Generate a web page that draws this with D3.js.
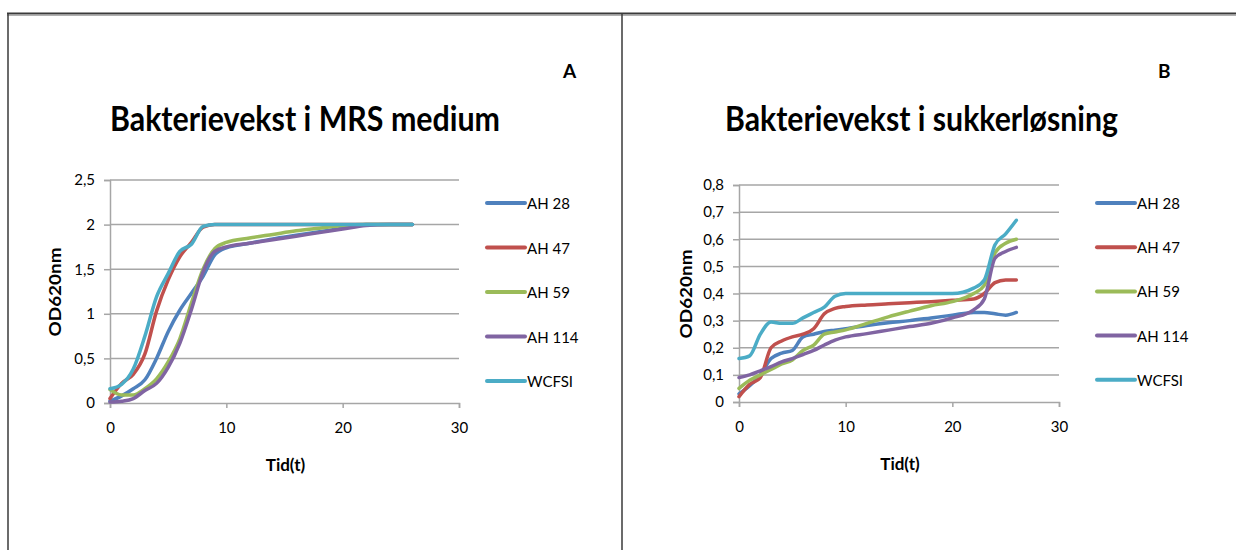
<!DOCTYPE html>
<html>
<head>
<meta charset="utf-8">
<script src="https://cdn.jsdelivr.net/npm/d3@7"></script>
<style>
  html, body { margin: 0; padding: 0; background: #fff; }
  svg { display: block; }
  text { font-family: Lato, "Open Sans", sans-serif; fill: #000; }
</style>
</head>
<body>
<svg id="chart" width="1236" height="550"></svg>
<script>
// ---------- Data ----------
const seriesNames = ["AH 28", "AH 47", "AH 59", "AH 114", "WCFSI"];
const seriesColors = ["#4F81BD", "#C0504D", "#9BBB59", "#8064A2", "#4BACC6"];

// Chart A: Bakterievekst i MRS medium
const timeA = [0, 1, 2, 3, 4, 5, 6, 7, 8, 9, 10, 12, 14, 16, 18, 20, 22, 24, 26];
const mrsAH28  = [0.02, 0.08, 0.16, 0.26, 0.50, 0.80, 1.04, 1.23, 1.42, 1.66, 1.74, 1.79, 1.84, 1.88, 1.92, 1.96, 2.0, 2.0, 2.0];
const mrsAH47  = [0.05, 0.22, 0.32, 0.55, 1.03, 1.38, 1.64, 1.80, 1.97, 2.0, 2.0, 2.0, 2.0, 2.0, 2.0, 2.0, 2.0, 2.0, 2.0];
const mrsAH59  = [0.15, 0.09, 0.09, 0.16, 0.27, 0.46, 0.72, 1.12, 1.50, 1.73, 1.80, 1.85, 1.89, 1.93, 1.96, 1.99, 2.0, 2.0, 2.0];
const mrsAH114 = [0.01, 0.02, 0.05, 0.14, 0.22, 0.40, 0.67, 1.05, 1.47, 1.70, 1.75, 1.79, 1.83, 1.87, 1.91, 1.95, 1.99, 2.0, 2.0];
const mrsWCFSI = [0.16, 0.21, 0.38, 0.75, 1.19, 1.45, 1.70, 1.78, 1.98, 2.0, 2.0, 2.0, 2.0, 2.0, 2.0, 2.0, 2.0, 2.0, 2.0];

// Chart B: Bakterievekst i sukkerløsning
const timeB = [0, 1, 2, 3, 4, 5, 6, 7, 8, 9, 10, 12, 14, 16, 18, 20, 22, 23, 24, 25, 26];
const sukAH28  = [0.03, 0.06, 0.10, 0.16, 0.18, 0.19, 0.24, 0.25, 0.26, 0.265, 0.27, 0.282, 0.292, 0.30, 0.31, 0.32, 0.33, 0.33, 0.325, 0.32, 0.33];
const sukAH47  = [0.02, 0.065, 0.09, 0.20, 0.225, 0.24, 0.25, 0.27, 0.325, 0.345, 0.352, 0.358, 0.362, 0.366, 0.37, 0.375, 0.38, 0.40, 0.44, 0.45, 0.45];
const sukAH59  = [0.05, 0.08, 0.10, 0.12, 0.14, 0.155, 0.19, 0.21, 0.25, 0.258, 0.266, 0.29, 0.314, 0.335, 0.355, 0.37, 0.40, 0.43, 0.55, 0.585, 0.60];
const sukAH114 = [0.09, 0.10, 0.115, 0.13, 0.148, 0.16, 0.175, 0.19, 0.21, 0.228, 0.24, 0.252, 0.265, 0.278, 0.29, 0.31, 0.34, 0.38, 0.53, 0.555, 0.57];
const sukWCFSI = [0.16, 0.17, 0.25, 0.295, 0.29, 0.29, 0.31, 0.33, 0.35, 0.39, 0.40, 0.40, 0.40, 0.40, 0.40, 0.40, 0.42, 0.45, 0.58, 0.62, 0.67];

const xTicks = [0, 10, 20, 30];
const yTicksA = [0, 0.5, 1, 1.5, 2, 2.5];
const yTicksB = [0, 0.1, 0.2, 0.3, 0.4, 0.5, 0.6, 0.7, 0.8];

const titleA = "Bakterievekst i MRS medium";
const titleB = "Bakterievekst i sukkerløsning";
const yLabel = "OD620nm";
const xLabel = "Tid(t)";

// ---------- Drawing ----------
const svg = d3.select("#chart");
const fmt = d => String(d).replace(".", ",");

// panel borders
const border = svg.append("g");
border.append("line").attr("x1", 7).attr("x2", 1236).attr("y1", 13.5).attr("y2", 13.5)
  .attr("stroke", "#3a3a3a").attr("stroke-width", 2);
border.append("line").attr("x1", 7).attr("x2", 1236).attr("y1", 15.5).attr("y2", 15.5)
  .attr("stroke", "#b0b0b0").attr("stroke-width", 1);
border.append("line").attr("x1", 8).attr("x2", 8).attr("y1", 13).attr("y2", 550)
  .attr("stroke", "#3a3a3a").attr("stroke-width", 1.5);
border.append("line").attr("x1", 622).attr("x2", 622).attr("y1", 13).attr("y2", 550)
  .attr("stroke", "#3a3a3a").attr("stroke-width", 1.5);

function drawChart(cfg) {
  const g = svg.append("g");
  const x = d3.scaleLinear().domain([0, 30]).range([cfg.x0, cfg.x1]);
  const y = d3.scaleLinear().domain([0, cfg.yMax]).range([cfg.y0, cfg.y1]);

  // gridlines
  g.append("g").selectAll("line").data(cfg.yTicks.filter(d => d > 0)).join("line")
    .attr("x1", cfg.x0).attr("x2", cfg.x1)
    .attr("y1", d => y(d)).attr("y2", d => y(d))
    .attr("stroke", "#a6a6a6").attr("stroke-width", 1.5);

  // y axis
  const ya = g.append("g").attr("transform", `translate(${cfg.x0},0)`)
    .call(d3.axisLeft(y).tickValues(cfg.yTicks).tickFormat(fmt).tickSize(6).tickPadding(9));
  ya.select(".domain").attr("stroke", "#a6a6a6").attr("stroke-width", 1.5);
  ya.selectAll(".tick line").attr("stroke", "#a6a6a6").attr("stroke-width", 1.5);
  ya.selectAll(".tick text").attr("font-family", "Lato, sans-serif").attr("font-size", 15)
    .attr("fill", "#000");

  // x axis
  const xa = g.append("g").attr("transform", `translate(0,${cfg.y0})`)
    .call(d3.axisBottom(x).tickValues(xTicks).tickFormat(fmt).tickSize(5).tickPadding(14));
  xa.select(".domain").attr("stroke", "#a6a6a6").attr("stroke-width", 1.5);
  xa.selectAll(".tick line").attr("stroke", "#a6a6a6").attr("stroke-width", 1.5);
  xa.selectAll(".tick text").attr("font-family", "Lato, sans-serif").attr("font-size", 15)
    .attr("fill", "#000");

  // lines
  const line = d3.line().x(d => x(d[0])).y(d => y(d[1])).curve(d3.curveMonotoneX);
  cfg.series.forEach((vals, i) => {
    g.append("path")
      .datum(cfg.time.map((t, k) => [t, vals[k]]))
      .attr("d", line)
      .attr("fill", "none")
      .attr("stroke", seriesColors[i])
      .attr("stroke-width", 3.5)
      .attr("stroke-linejoin", "round")
      .attr("stroke-linecap", "round");
  });

  // title
  g.append("text").attr("x", cfg.titleX).attr("y", 131)
    .attr("font-size", 34).attr("font-weight", "bold")
    .attr("textLength", cfg.titleW).attr("lengthAdjust", "spacingAndGlyphs")
    .text(cfg.title);
  // panel letter
  g.append("text").attr("x", cfg.letterX).attr("y", 78)
    .attr("font-size", 19).attr("font-weight", "bold")
    .text(cfg.letter);

  // y label
  g.append("text")
    .attr("transform", `translate(${cfg.yLabelX},${cfg.yLabelY}) rotate(-90)`)
    .attr("text-anchor", "middle")
    .attr("font-size", 17).attr("font-weight", "bold")
    .attr("textLength", 89).attr("lengthAdjust", "spacingAndGlyphs")
    .text(yLabel);
  // x label
  g.append("text")
    .attr("x", (cfg.x0 + cfg.x1) / 2 + 1).attr("y", cfg.xLabelY)
    .attr("text-anchor", "middle")
    .attr("font-size", 17).attr("font-weight", "bold")
    .text(xLabel);

  // legend
  const lg = g.append("g");
  seriesNames.forEach((name, i) => {
    const ly = cfg.legY0 + i * cfg.legDy;
    lg.append("line").attr("x1", cfg.legX).attr("x2", cfg.legX + 38)
      .attr("y1", ly).attr("y2", ly)
      .attr("stroke", seriesColors[i]).attr("stroke-width", 4)
      .attr("stroke-linecap", "round");
    lg.append("text").attr("x", cfg.legX + 40).attr("y", ly + 6)
      .attr("font-size", 15).text(name);
  });
}

drawChart({
  x0: 110, x1: 459, y0: 403, y1: 180, yMax: 2.5, yTicks: yTicksA,
  time: timeA, series: [mrsAH28, mrsAH47, mrsAH59, mrsAH114, mrsWCFSI],
  title: titleA, titleX: 110, titleW: 390, letter: "A", letterX: 563,
  yLabelX: 61, yLabelY: 292, xLabelY: 471,
  legX: 487, legY0: 203, legDy: 44.5
});

drawChart({
  x0: 739, x1: 1059, y0: 402, y1: 185, yMax: 0.8, yTicks: yTicksB,
  time: timeB, series: [sukAH28, sukAH47, sukAH59, sukAH114, sukWCFSI],
  title: titleB, titleX: 725, titleW: 393, letter: "B", letterX: 1158,
  yLabelX: 692, yLabelY: 294, xLabelY: 470,
  legX: 1097, legY0: 203, legDy: 44.2
});
</script>
</body>
</html>
